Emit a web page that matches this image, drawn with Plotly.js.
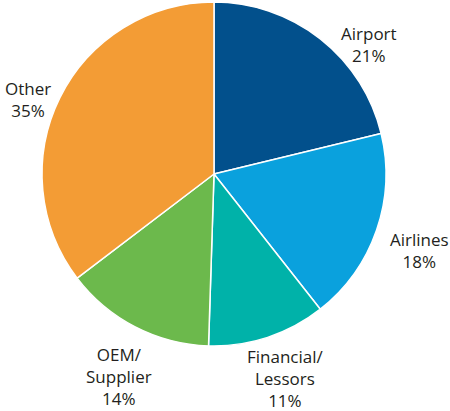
<!DOCTYPE html>
<html>
<head>
<meta charset="utf-8">
<script src="https://cdn.plot.ly/plotly-3.0.1.min.js"></script>
<style>html,body{margin:0;padding:0;background:#fff;}#chart{width:450px;height:411px;}</style>
</head>
<body>
<div id="chart"></div>
<script>
const categories = ["Airport", "Airlines", "Financial/<br>Lessors", "OEM/<br>Supplier", "Other"];
const values = [21, 18, 11, 14, 35];
const labelsShown = ["21%", "18%", "11%", "14%", "35%"];
const colors = ["#02508C", "#0AA1DD", "#00B2A9", "#6CB94C", "#F39C35"];

// label centre positions in pixels (layout only)
const labelPx = [[369, 45], [419, 250], [285, 378], [119, 376], [28, 99]];
const W = 450, H = 411;

const trace = {
  type: "pie",
  labels: categories,
  values: values,
  textinfo: "none",
  sort: false,
  direction: "clockwise",
  rotation: 0,
  marker: {colors: colors, line: {color: "#ffffff", width: 1.5}},
  domain: {x: [0.0933, 0.8578], y: [0.1582, 0.9951]},
  hoverinfo: "none"
};

const annotations = categories.map((c, i) => ({
  xref: "paper", yref: "paper",
  x: labelPx[i][0] / W, y: 1 - labelPx[i][1] / H,
  xanchor: "center", yanchor: "middle",
  text: c + "<br>" + labelsShown[i],
  showarrow: false,
  align: "center",
  borderpad: 0,
  font: {family: "'Open Sans', sans-serif", size: 17, color: "#231F20"}
}));

const layout = {
  width: W, height: H,
  margin: {l: 0, r: 0, t: 0, b: 0},
  showlegend: false,
  paper_bgcolor: "#ffffff",
  annotations: annotations
};

Plotly.newPlot("chart", [trace], layout, {displayModeBar: false, staticPlot: true});
</script>
</body>
</html>
